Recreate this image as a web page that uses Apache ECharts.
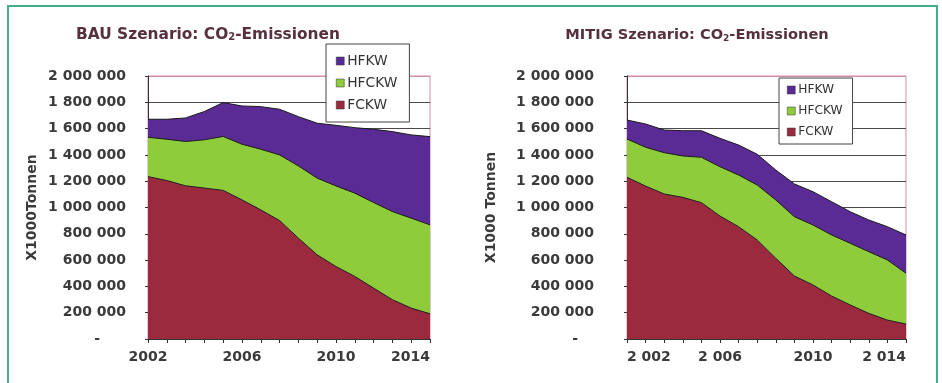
<!DOCTYPE html>
<html>
<head>
<meta charset="utf-8">
<script src="https://cdn.jsdelivr.net/npm/echarts@6/dist/echarts.min.js"></script>
<style>
  html, body { margin: 0; padding: 0; background: #fff; }
  #chart { width: 942px; height: 383px; }
</style>
</head>
<body>
<div id="chart"></div>
<script>
// Time steps along the x axis (16 points per scenario)
const periods = ['p01', 'p02', 'p03', 'p04', 'p05', 'p06', 'p07', 'p08',
                 'p09', 'p10', 'p11', 'p12', 'p13', 'p14', 'p15', 'p16'];

// Year labels shown under every fifth step
const bauYearLabels = ['2002', '2006', '2010', '2014'];
const mitigYearLabels = ['2 002', '2 006', '2010', '2 014'];

// Y axis ticks (x1000 t CO2-equivalent)
const yTicks = [0, 200000, 400000, 600000, 800000, 1000000, 1200000, 1400000, 1600000, 1800000, 2000000];

// BAU scenario emissions by substance group
const bauFCKW  = [1235000, 1205000, 1165000, 1148000, 1130000, 1058000, 982000, 901000,
                  767000, 640000, 551000, 476000, 387000, 299000, 235000, 192000];
const bauHFCKW = [299000, 314000, 337000, 367000, 410000, 423000, 461000, 499000,
                  549000, 583000, 613000, 633000, 651000, 670000, 684000, 676000];
const bauHFKW  = [137000, 152000, 179000, 215000, 258000, 291000, 324000, 347000,
                  375000, 418000, 461000, 498000, 557000, 608000, 633000, 671000];

// MITIG scenario emissions by substance group
const mitigFCKW  = [1230000, 1163000, 1103000, 1077000, 1037000, 935000, 854000, 753000,
                    614000, 479000, 411000, 327000, 259000, 195000, 144000, 114000];
const mitigHFCKW = [291000, 295000, 314000, 315000, 345000, 375000, 393000, 418000,
                    443000, 451000, 456000, 464000, 469000, 469000, 457000, 386000];
const mitigHFKW  = [144000, 177000, 172000, 192000, 202000, 216000, 228000, 234000,
                    228000, 249000, 253000, 253000, 240000, 241000, 253000, 291000];

const seriesNames = ['FCKW', 'HFCKW', 'HFKW'];
const colors = { FCKW: '#9c2a3e', HFCKW: '#8fcc3c', HFKW: '#5a2b94' };

const FONT = '"DejaVu Sans", Verdana, sans-serif';
const LABEL_COLOR = '#3a3a3a';

function groupDigits(v) {
  return String(v).replace(/\B(?=(\d{3})+(?!\d))/g, ' ');
}

function yAxis(gridIndex, nameText, nameGap, labelMargin, fontSize, dashPad) {
  const gridColors = yTicks.map((t, i) => i === yTicks.length - 1 ? '#cf8ea8' : '#4a4a4a');
  return {
    type: 'value',
    gridIndex: gridIndex,
    min: yTicks[0],
    max: yTicks[yTicks.length - 1],
    interval: yTicks[1] - yTicks[0],
    name: nameText,
    nameLocation: 'middle',
    nameRotate: 90,
    nameGap: nameGap,
    nameTextStyle: { fontFamily: FONT, fontWeight: 'bold', fontSize: fontSize, color: LABEL_COLOR },
    axisLine: { show: true, lineStyle: { color: '#333', width: 1 } },
    axisTick: { show: true, inside: false, length: 3, lineStyle: { color: '#333' } },
    splitLine: { show: true, lineStyle: { color: gridColors, width: 1 } },
    axisLabel: {
      margin: labelMargin,
      fontFamily: FONT,
      fontWeight: 'bold',
      fontSize: fontSize,
      color: LABEL_COLOR,
      formatter: v => v === 0 ? '{z|-}' : groupDigits(v),
      rich: { z: { fontFamily: FONT, fontWeight: 'bold', fontSize: fontSize, color: LABEL_COLOR, padding: [0, dashPad, 0, 0] } }
    }
  };
}

function xAxis(gridIndex, labels, fontSize, alignMin) {
  return {
    type: 'category',
    gridIndex: gridIndex,
    data: periods,
    boundaryGap: false,
    axisLine: { show: true, lineStyle: { color: '#333', width: 1 } },
    axisTick: { show: true, interval: 0, length: 4, lineStyle: { color: '#333' } },
    splitLine: { show: false },
    axisLabel: {
      interval: (index) => index % 5 === 0,
      formatter: (value, index) => labels[Math.round(index / 5)] || '',
      margin: 11,
      fontFamily: FONT,
      fontWeight: 'bold',
      fontSize: fontSize,
      color: LABEL_COLOR,
      alignMinLabel: alignMin,
      alignMaxLabel: 'right'
    }
  };
}

function stackSeries(gridIndex, stackId, dataByName) {
  return seriesNames.map(name => ({
    name: name,
    type: 'line',
    xAxisIndex: gridIndex,
    yAxisIndex: gridIndex,
    stack: stackId,
    data: dataByName[name],
    symbol: 'none',
    smooth: false,
    color: colors[name],
    lineStyle: { color: '#1a1a1a', width: 1 },
    areaStyle: { color: colors[name], opacity: 1 },
    emphasis: { disabled: true }
  }));
}

function titleRich(size) {
  return {
    a: { fontFamily: FONT, fontWeight: 'bold', fontSize: size, color: '#56303f', lineHeight: 18, verticalAlign: 'bottom' },
    s: { fontFamily: FONT, fontWeight: 'bold', fontSize: Math.round(size * 0.62), color: '#56303f', lineHeight: 12, verticalAlign: 'bottom' }
  };
}

function legend(left, top, fontSize, itemGap, padding) {
  return {
    orient: 'vertical',
    left: left,
    top: top,
    data: ['HFKW', 'HFCKW', 'FCKW'],
    icon: 'rect',
    itemWidth: 8,
    itemHeight: 8,
    itemGap: itemGap,
    padding: padding,
    backgroundColor: '#fff',
    borderColor: '#444',
    borderWidth: 1,
    borderRadius: 0,
    selectedMode: false,
    itemStyle: { borderWidth: 0.5, borderColor: '#333' },
    textStyle: { fontFamily: FONT, fontSize: fontSize, color: '#333', padding: [0, 0, 0, -2] }
  };
}

const chart = echarts.init(document.getElementById('chart'), null, { renderer: 'canvas' });

chart.setOption({
  backgroundColor: '#fff',
  animation: false,
  title: [
    {
      text: '{a|BAU Szenario: CO}{s|2}{a|-Emissionen}',
      left: 203, top: 19, textAlign: 'center',
      textStyle: { rich: titleRich(15.4) }
    },
    {
      text: '{a|MITIG Szenario: CO}{s|2}{a|-Emissionen}',
      left: 692, top: 20, textAlign: 'center',
      textStyle: { rich: titleRich(14.6) }
    }
  ],
  legend: [
    legend(326, 44, 13.8, 8, [10, 12, 10, 10]),
    legend(779, 78, 12.2, 9, [6, 10, 6, 8])
  ],
  grid: [
    { left: 148, top: 76, width: 282, height: 263, show: true, borderColor: '#cf8ea8', borderWidth: 1, backgroundColor: '#fff', containLabel: false },
    { left: 627, top: 76, width: 279, height: 263, show: true, borderColor: '#cf8ea8', borderWidth: 1, backgroundColor: '#fff', containLabel: false }
  ],
  xAxis: [
    xAxis(0, bauYearLabels, 14, 'center'),
    xAxis(1, mitigYearLabels, 14, 'left')
  ],
  yAxis: [
    yAxis(0, 'X1000Tonnen', 109, 22, 14, 26),
    yAxis(1, 'X1000 Tonnen', 129, 33, 14, 16)
  ],
  series: [
    ...stackSeries(0, 'bau', { FCKW: bauFCKW, HFCKW: bauHFCKW, HFKW: bauHFKW }),
    ...stackSeries(1, 'mitig', { FCKW: mitigFCKW, HFCKW: mitigHFCKW, HFKW: mitigHFKW })
  ],
  graphic: [
    {
      type: 'polyline',
      silent: true,
      z: 100,
      shape: { points: [[8, 383], [8, 6], [937, 6], [937, 383]] },
      style: { stroke: '#3fae8d', lineWidth: 2, fill: null }
    }
  ]
});
</script>
</body>
</html>
